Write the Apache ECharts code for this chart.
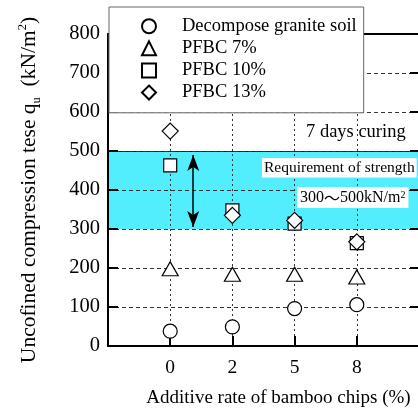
<!DOCTYPE html>
<html><head><meta charset="utf-8">
<script src="https://cdn.jsdelivr.net/npm/echarts@6/dist/echarts.min.js"></script>
<style>html,body{margin:0;padding:0;background:#fff}#c{width:418px;height:414px}</style>
</head><body><div id="c"></div>
<script>
const categories = ['0', '2', '5', '8'];
const seriesNames = ['Decompose granite soil', 'PFBC 7%', 'PFBC 10%', 'PFBC 13%'];
const soil = [38, 49, 96, 106];
const pfbc7 = [198, 184, 184, 177];
const pfbc10 = [463, 348, 314, 264];
const pfbc13 = [551, 335, 322, 267];
const yTicks = [0, 100, 200, 300, 400, 500, 600, 700, 800];
const bandRange = [300, 500];
const arrowRange = [490, 305];

const F = "'Liberation Serif', 'Times New Roman', 'Noto Serif CJK JP', 'Noto Sans CJK JP', serif";
const toPts = arr => arr.map((v, i) => [i, v]);
const symbols = ['circle', 'triangle', 'rect', 'diamond'];
const sizes = [[14, 14], [16, 14], [13, 13], [16, 16]];
const dataSets = [soil, pfbc7, pfbc10, pfbc13];

const chart = echarts.init(document.getElementById('c'), null, {renderer: 'canvas'});
const grid = {left: 108, right: -1, top: 34, bottom: 68, containLabel: false, outerBoundsMode: 'none'};
const yCommon = {type: 'value', min: yTicks[0], max: yTicks[yTicks.length - 1], interval: 100, z: 6};

const series = dataSets.map((d, i) => ({
  name: seriesNames[i], type: 'scatter', data: toPts(d), symbol: symbols[i], symbolSize: sizes[i],
  itemStyle: {color: '#fff', borderColor: '#000', borderWidth: 1.2, opacity: 1}, z: 8 + i,
  emphasis: {disabled: true}
}));
series.push({
  name: 'band', type: 'line', data: [], z: 0, silent: true,
  markArea: {z: 0, silent: true, itemStyle: {color: '#52EEFD', opacity: 1}, data: [[{yAxis: bandRange[1]}, {yAxis: bandRange[0]}]]},
  markLine: {z: 0, silent: true, symbol: ['none', 'none'], label: {show: false}, lineStyle: {color: '#222', type: 'solid', width: 1}, data: [{yAxis: bandRange[1]}]}
});
series.push({
  name: 'arrow', type: 'line', data: [], z: 7, silent: true,
  markLine: {z: 7, silent: true, symbol: ['arrow', 'arrow'], symbolSize: [9, 16], label: {show: false},
    lineStyle: {color: '#000', type: 'solid', width: 1.5},
    data: [[{coord: [0.37, arrowRange[0]]}, {coord: [0.37, arrowRange[1]]}]]}
});

chart.setOption({
  animation: false,
  backgroundColor: '#fff',
  grid: grid,
  legend: {
    data: seriesNames, orient: 'vertical', left: 109, top: 7, itemWidth: 14, itemHeight: 14, itemGap: 3.6,
    backgroundColor: '#fff', borderColor: '#666', borderWidth: 1, borderRadius: 0,
    padding: [10, 7, 11, 32], z: 12, selectedMode: false,
    textStyle: {fontFamily: F, fontSize: 18.5, color: '#000', padding: [0, 0, 0, 21]}
  },
  xAxis: [{
    type: 'value', min: -1, max: 4, interval: 1, z: 6,
    axisLine: {show: true, onZero: false, lineStyle: {color: '#000', width: 2}},
    axisTick: {show: true, inside: true, length: 10, lineStyle: {color: '#000', width: 2}},
    axisLabel: {fontFamily: F, fontSize: 19.5, color: '#000', margin: 12,
      formatter: v => (v >= 0 && v < categories.length) ? categories[v] : ''},
    splitLine: {show: true, showMinLine: false, showMaxLine: false, lineStyle: {color: '#333', type: [2, 3], width: 1}},
    name: 'Additive rate of bamboo chips (%)', nameLocation: 'middle', nameGap: 43,
    nameTextStyle: {fontFamily: F, fontSize: 19, color: '#000', padding: [0, 0, 0, 30]}
  }, {
    type: 'value', min: -1, max: 4, interval: 1, position: 'top', z: 6,
    axisLine: {show: true, onZero: false, lineStyle: {color: '#000', width: 2}},
    axisTick: {show: false}, axisLabel: {show: false}, splitLine: {show: false}
  }],
  yAxis: [Object.assign({}, yCommon, {
    axisLine: {show: true, onZero: false, lineStyle: {color: '#000', width: 2}},
    axisTick: {show: true, inside: true, length: 10, lineStyle: {color: '#000', width: 2}},
    axisLabel: {fontFamily: F, fontSize: 20.5, color: '#000', margin: 8},
    splitLine: {show: true, showMinLine: false, showMaxLine: false, lineStyle: {color: '#333', type: [4, 3], width: 1}},
    name: 'Uncofined compression tese q{sub|u}  (kN/m{sup|2})', nameLocation: 'middle', nameGap: 65, nameRotate: 90,
    nameTextStyle: {fontFamily: F, fontSize: 21.5, color: '#000', lineHeight: 27,
      rich: {
        sub: {fontFamily: F, fontSize: 12.5, color: '#000', verticalAlign: 'bottom', lineHeight: 12},
        sup: {fontFamily: F, fontSize: 12.5, color: '#000', verticalAlign: 'top', lineHeight: 12}
      }}
  }), Object.assign({}, yCommon, {
    position: 'right',
    axisLine: {show: true, onZero: false, lineStyle: {color: '#000', width: 2}},
    axisTick: {show: true, inside: true, length: 9, lineStyle: {color: '#000', width: 2}},
    axisLabel: {show: false}, splitLine: {show: false}
  })],
  series: series,
  graphic: [
    {type: 'text', left: 306, top: 123, z: 20, style: {text: '7 days curing', font: '18.5px ' + F, fill: '#000'}},
    {type: 'text', left: 262, top: 158, z: 20, style: {text: 'Requirement of strength', font: '15.5px ' + F, fill: '#000',
      backgroundColor: '#fff', padding: [2, 2, 2, 2]}},
    {type: 'text', left: 297, top: 187, z: 20, style: {
      text: '300{t|～}500kN/m{sup|2}', font: '16px ' + F, fill: '#000', backgroundColor: '#fff', padding: [3, 3, 2, 3],
      rich: {
        t: {fontFamily: "'Noto Sans CJK JP'", fontSize: 16, fill: '#000'},
        sup: {fontFamily: F, fontSize: 10, fill: '#000', verticalAlign: 'top'}
      }}}
  ]
});
</script></body></html>
